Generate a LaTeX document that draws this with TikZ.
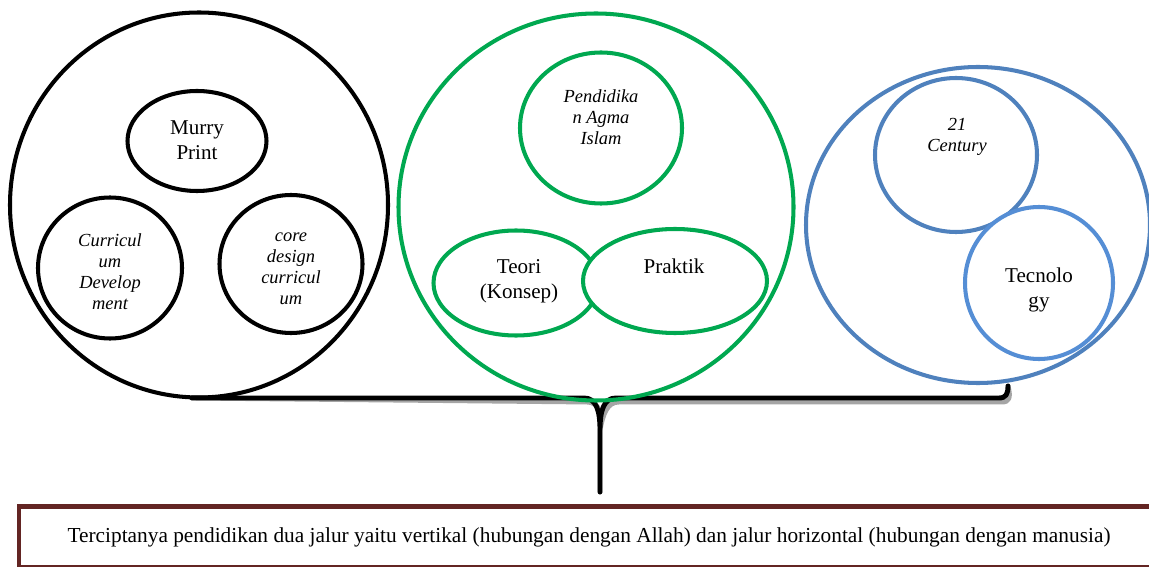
\documentclass[tikz,border=0pt]{standalone}
\usepackage{fontspec}
\setmainfont{Liberation Serif}
\usetikzlibrary{shapes.geometric}
\definecolor{ringgreen}{RGB}{0,168,80}
\definecolor{ringblue}{RGB}{79,129,189}
\definecolor{ringlight}{RGB}{85,142,213}
\definecolor{boxbrown}{RGB}{99,37,35}
\definecolor{shadowgray}{RGB}{165,165,165}
\newcommand{\px}{0.02cm}

\begin{document}
\begin{tikzpicture}[x=0.02cm,y=-0.02cm,
ring/.style 2 args={ellipse, inner sep=0pt, line width=2.3pt, minimum width=#1*\px, minimum height=#2*\px},
blackring/.style={draw=black, fill=white},
greenring/.style={draw=ringgreen, fill=white},
bluering/.style={draw=ringblue, fill=white},
uplabel/.style={align=center, inner sep=0pt, font=\fontsize{12}{14}\selectfont},
itlabel/.style={align=center, inner sep=0pt, font=\fontsize{10.5}{12}\selectfont\itshape},
bracepath/.style={line width=2.8pt, line cap=round, line join=round},
msgbox/.style={rectangle, draw=boxbrown, line width=2.8pt, inner sep=0pt, align=center, font=\fontsize{12.15}{14}\selectfont},
]
\useasboundingbox (0,0) rectangle (1149,567);

%Brace
\coordinate (braceleft) at (192,398);
\coordinate (braceright) at (1008,386);
\coordinate (knot) at (600,430);
\coordinate (tip) at (600,492);
\draw[bracepath, shadowgray, shift={(3,4)}] (braceleft) -- (584,398) .. controls (596,398) and (600,410) .. (knot) -- (tip)
  (knot) .. controls (600,410) and (604,398) .. (616,398) -- (999,398) .. controls (1006,398) and (1008,394) .. (braceright);
\draw[bracepath] (braceleft) -- (584,398) .. controls (596,398) and (600,410) .. (knot) -- (tip)
  (knot) .. controls (600,410) and (604,398) .. (616,398) -- (999,398) .. controls (1006,398) and (1008,394) .. (braceright);

%Nodes
\node[ring={378}{385}, draw=black] (outerA) at (199,205) {};
\node[ring={139}{100}, blackring] (murry) at (197,141) {};
\node[ring={144}{141}, blackring] (curdev) at (110,268) {};
\node[ring={143}{138}, blackring] (core) at (291,264) {};

\node[ring={395}{387}, draw=ringgreen] (outerB) at (596,207) {};
\node[ring={162}{151}, greenring] (pai) at (601,128) {};
\node[ring={165}{105}, greenring] (teori) at (516,283) {};
\node[ring={184}{104}, greenring] (praktik) at (675,281) {};

\node[ring={344}{316}, draw=ringblue] (outerC) at (978,225) {};
\node[ring={162}{154}, bluering] (century) at (956,155) {};
\node[ring={148}{152}, draw=ringlight, fill=white] (tech) at (1039,283) {};

%Labels
\node[uplabel] (murrytext) at (197,140) {Murry\\Print};
\node[itlabel] (curdevtext) at (110,272) {Curricul\\um\\Develop\\ment};
\node[itlabel] (coretext) at (291,269) {core\\design\\curricul\\um};
\node[itlabel] (paitext) at (601,117) {Pendidika\\n Agma\\Islam};
\node[uplabel] (teoritext) at (519,281) {Teori\\(Konsep)};
\node[uplabel] (praktiktext) at (674,266) {Praktik};
\node[itlabel] (centurytext) at (957,137) {21\\Century};
\node[uplabel] (techtext) at (1039,290) {Tecnolo\\gy};

\node[msgbox, minimum width=1140*\px, minimum height=61*\px] (msg) at (589,537)
  {Terciptanya pendidikan dua jalur yaitu vertikal (hubungan dengan Allah) dan jalur horizontal (hubungan dengan manusia)};
\end{tikzpicture}
\end{document}
